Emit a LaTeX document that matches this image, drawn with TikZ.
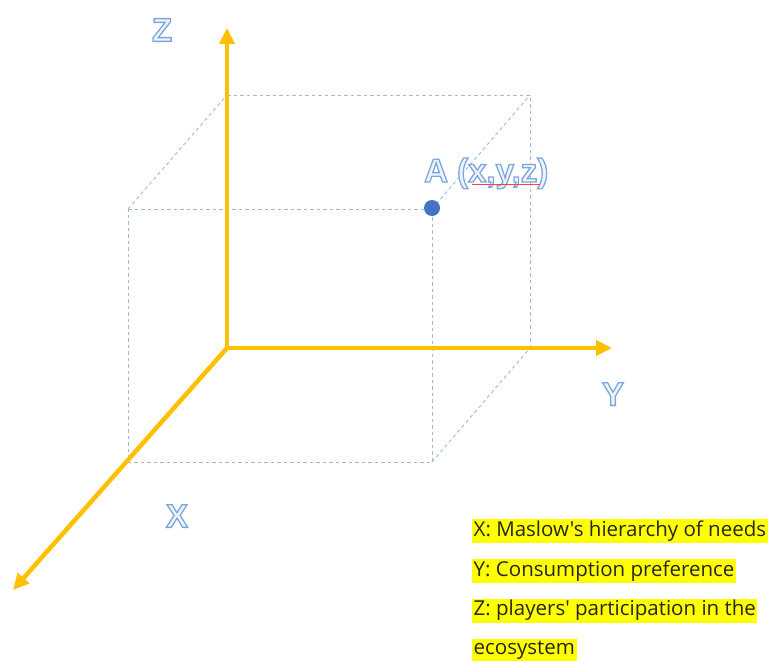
\documentclass[tikz,border=0pt]{standalone}
\usepackage{fontspec}
\setmainfont{Liberation Sans}
\newfontfamily\legfont{Open Sans}
\usetikzlibrary{arrows.meta}
\definecolor{axisgold}{HTML}{FFC000}
\definecolor{cubeline}{HTML}{9DB9DC}
\definecolor{palefill}{HTML}{EEF4FC}
\definecolor{dotblue}{HTML}{4472C4}
\definecolor{hl}{HTML}{FFFF00}
% outlined text: pale fill, blue stroke (PDF text render mode 2)
\newcommand{\outlinetext}[1]{{\color{palefill}\special{pdf:literal direct 0.49 0.65 0.85 RG 1.3 w 2 Tr}#1\special{pdf:literal direct 0 Tr}}}
\begin{document}
\begin{tikzpicture}[x=1pt,y=-1pt,
 axis/.style={line width=4.5pt, draw=axisgold, -{Triangle[length=16pt,width=15pt]}},
 cubeedge/.style={draw=cubeline, line width=0.9pt, dash pattern=on 3.5pt off 3pt},
 axlabel/.style={font=\bfseries\fontsize{33}{33}\selectfont, inner sep=0pt},
 legend/.style={fill=hl, font=\legfont\fontsize{20.5}{20.5}\selectfont, anchor=west, inner sep=1.5pt, text=black!85}]
\useasboundingbox (0,0) rectangle (771,661);
% axis ends
\coordinate (O) at (227,348);
\coordinate (Zt) at (227,28);
\coordinate (Yt) at (612,348);
\coordinate (Xt) at (13,590);
% cube corners
\coordinate (f1) at (128,209);
\coordinate (f2) at (432,209);
\coordinate (f3) at (432,462);
\coordinate (f4) at (128,462);
\coordinate (b1) at (227,95);
\coordinate (b2) at (530,95);
\coordinate (b3) at (530,348);
% dashed cube
\draw[cubeedge] (f1) -- (f2) -- (f3) -- (f4) -- cycle;
\draw[cubeedge] (b1) -- (b2) -- (b3);
\draw[cubeedge] (f1) -- (b1);
\draw[cubeedge] (f2) -- (b2);
\draw[cubeedge] (f3) -- (b3);
% axes
\draw[axis] (O) -- (Zt);
\draw[axis] (O) -- (Yt);
\draw[axis] (O) -- (Xt);
% point A
\node[circle, fill=dotblue, minimum size=16pt, inner sep=0pt] (A) at (432,208) {};
\node[axlabel, anchor=base west] (Alab) at (424,182) {\outlinetext{A (x,y,z)}};
\coordinate (u1) at (472,184);
\coordinate (u2) at (540,184);
\draw[red!75, line width=0.8pt] (u1) -- (u2);
% axis labels
\node[axlabel] (Zlab) at (162,30) {\outlinetext{Z}};
\node[axlabel] (Ylab) at (613,394) {\outlinetext{Y}};
\node[axlabel] (Xlab) at (177,516) {\outlinetext{X}};
% legend
\node[legend] (l1) at (472,531) {X: Maslow's hierarchy of needs};
\node[legend] (l2) at (472,571) {Y: Consumption preference};
\node[legend] (l3) at (472,611) {Z: players' participation in the\strut};
\node[legend] (l4) at (472,650) {ecosystem};
\end{tikzpicture}
\end{document}
